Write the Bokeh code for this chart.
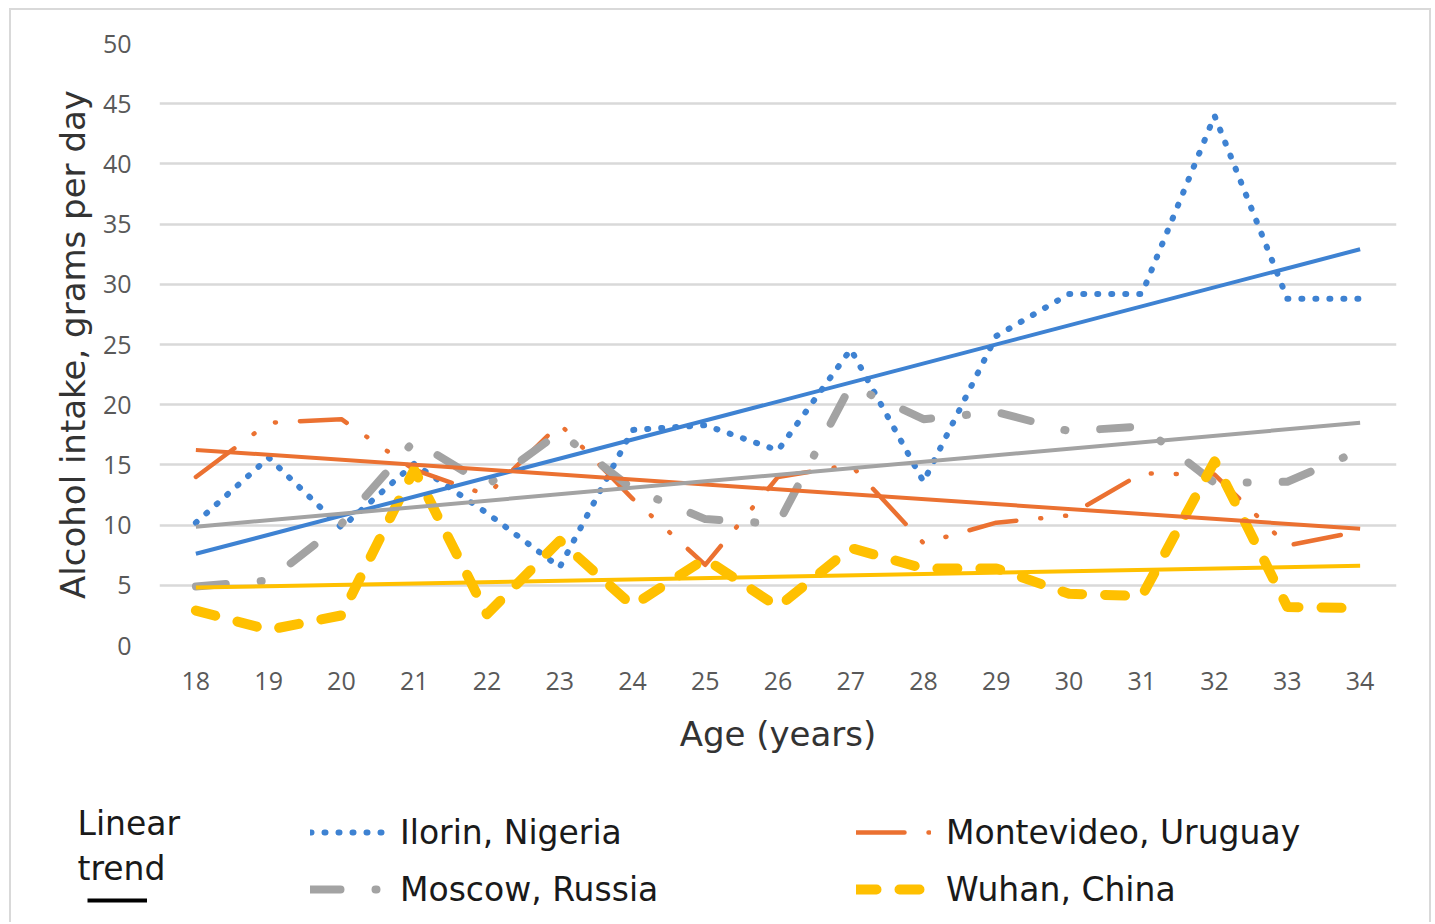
import numpy as np
from bokeh.plotting import figure
from bokeh.layouts import column
from bokeh.models import Legend, LegendItem, Label, FixedTicker
from bokeh.embed import file_html
from bokeh.resources import INLINE

# ---- data ----
ages = list(range(18, 35))
ilorin = [10.2, 15.6, 9.8, 15.1, 11.0, 6.5, 17.9, 18.3, 16.2, 24.6, 13.6, 25.7, 29.2, 29.2, 44.0, 28.8, 28.8]
montevideo = [14.0, 18.5, 18.8, 14.6, 12.5, 18.4, 12.2, 6.7, 14.0, 15.0, 8.5, 10.2, 10.8, 14.3, 14.2, 8.3, 9.5]
moscow = [4.9, 5.4, 10.1, 17.0, 13.3, 17.7, 13.0, 10.5, 10.1, 21.6, 18.8, 19.4, 17.8, 18.2, 13.5, 13.6, 16.2]
wuhan = [2.9, 1.3, 2.5, 14.6, 2.6, 8.7, 3.3, 7.2, 3.2, 8.1, 6.4, 6.4, 4.3, 4.1, 15.3, 3.2, 3.1]
y_ticks = list(range(0, 51, 5))
series_names = ["Ilorin, Nigeria", "Montevideo, Uruguay", "Moscow, Russia", "Wuhan, China"]

BLUE = "#3E82D2"
ORANGE = "#EB7131"
GRAY = "#A3A3A3"
GOLD = "#FFC000"

STYLES = {
    "il": dict(line_color=BLUE, line_width=6, line_dash="1 13", line_cap="round", line_join="round"),
    "mv": dict(line_color=ORANGE, line_width=4.5, line_dash="48 24 1 24 1 24", line_cap="round", line_join="round"),
    "ms": dict(line_color=GRAY, line_width=8, line_dash="30 35 1 35", line_cap="round", line_join="round"),
    "wu": dict(line_color=GOLD, line_width=10, line_dash="20 23", line_cap="round", line_join="round"),
}

p = figure(frame_width=1237, frame_height=602, x_range=(17.5, 34.5), y_range=(0, 50),
           output_backend="svg", toolbar_location=None,
           min_border_left=148, min_border_right=33, min_border_top=33, min_border_bottom=115)
p.outline_line_color = None
p.background_fill_color = "white"
p.border_fill_color = "white"

# axes
for ax in (p.xaxis[0], p.yaxis[0]):
    ax.axis_line_color = None
    ax.major_tick_line_color = None
    ax.minor_tick_line_color = None
    ax.major_label_text_font = "Open Sans"
    ax.major_label_text_font_size = "25px"
    ax.major_label_text_color = "#595959"
    ax.axis_label_text_font = "DejaVu Sans"
    ax.axis_label_text_font_size = "34px"
    ax.axis_label_text_font_style = "normal"
    ax.axis_label_text_color = "#333333"
p.xaxis.ticker = FixedTicker(ticks=ages)
p.yaxis.ticker = FixedTicker(ticks=y_ticks)
p.xaxis.axis_label = "Age (years)"
p.yaxis.axis_label = "Alcohol intake, grams per day"
p.xaxis.major_label_standoff = 20
p.yaxis.major_label_standoff = 22
p.xaxis.axis_label_standoff = 21
p.yaxis.axis_label_standoff = 7

p.xgrid.grid_line_color = None
p.ygrid.grid_line_color = "#d9d9d9"
p.ygrid.grid_line_width = 2.5

# series
p.line(ages, ilorin, **STYLES["il"])
p.line(ages, montevideo, **STYLES["mv"])
p.line(ages, moscow, **STYLES["ms"])
p.line(ages, wuhan, **STYLES["wu"])

# linear trends (least squares fit of each series)
ends = [ages[0], ages[-1]]
for vals, col in ((ilorin, BLUE), (montevideo, ORANGE), (moscow, GRAY), (wuhan, GOLD)):
    k, b = np.polyfit(ages, vals, 1)
    p.line(ends, [k * e + b for e in ends], line_color=col, line_width=4)

# ---- legend strip below the chart (its ranges keep the legend-only lines out of view) ----
q = figure(width=1418, height=162, x_range=(100, 101), y_range=(100, 101),
           output_backend="svg", toolbar_location=None,
           x_axis_location=None, y_axis_location=None,
           min_border=0, min_border_left=0, min_border_right=0, min_border_top=0, min_border_bottom=0)
q.grid.visible = False
q.outline_line_color = None
q.border_fill_color = "white"
q.background_fill_color = "white"

d_il = q.line(ages, ilorin, **STYLES["il"])
d_mv = q.line(ages, montevideo, **STYLES["mv"])
d_ms = q.line(ages, moscow, **STYLES["ms"])
d_wu = q.line(ages, wuhan, **STYLES["wu"])
d_tr = q.line(ages, ilorin, line_color="black", line_width=4)

common = dict(border_line_color=None, background_fill_alpha=0, padding=0, margin=0,
              glyph_width=75, glyph_height=40, label_height=40, label_standoff=15, spacing=17,
              label_text_font="DejaVu Sans", label_text_font_size="33px", label_text_color="#1a1a1a")

legA = Legend(items=[LegendItem(label=series_names[0], renderers=[d_il]),
                     LegendItem(label=series_names[2], renderers=[d_ms])],
              location=(299, 13), **common)
legB = Legend(items=[LegendItem(label=series_names[1], renderers=[d_mv]),
                     LegendItem(label=series_names[3], renderers=[d_wu])],
              location=(845, 13), **common)
legC = Legend(items=[LegendItem(label=" ", renderers=[d_tr])],
              location=(76, 12), border_line_color=None, background_fill_alpha=0,
              padding=0, margin=0, glyph_width=60, glyph_height=20, label_height=20,
              label_text_font_size="10px", label_standoff=0)
for lg in (legA, legB, legC):
    q.add_layout(lg, "center")

for txt, yy in (("Linear", 99), ("trend", 54)):
    q.add_layout(Label(x=66, y=yy, x_units="screen", y_units="screen", text=txt,
                       text_font="DejaVu Sans", text_font_size="33px", text_color="#1a1a1a",
                       text_baseline="alphabetic"))

page = column(p, column(q), spacing=0,
              styles={"border": "2px solid #d9d9d9", "border-bottom-width": "0px",
                      "margin-left": "9px", "margin-top": "8px"})

open("out.html", "w").write(file_html(page, INLINE))
